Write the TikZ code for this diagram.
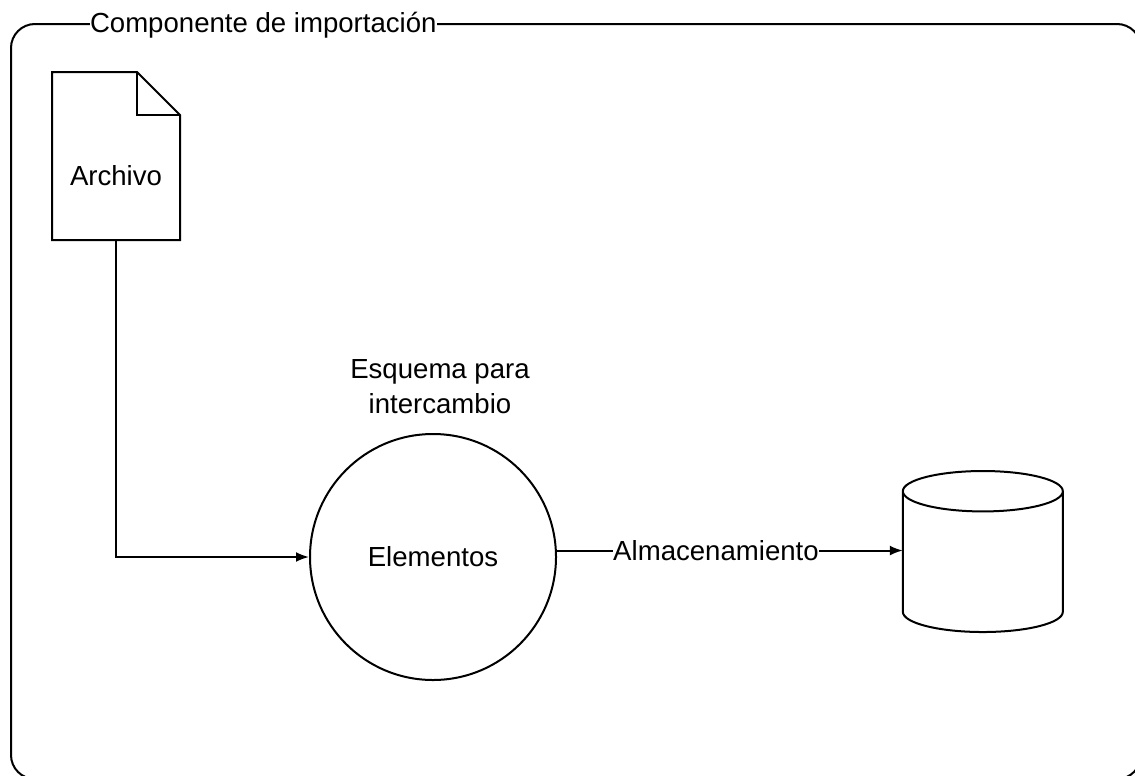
\documentclass[tikz,border=0pt]{standalone}
\usepackage{fontspec}
\setmainfont{Liberation Sans}
\usepackage{tikz}
\usetikzlibrary{positioning}
\usetikzlibrary{shapes.geometric}
\usetikzlibrary{arrows.meta}

\begin{document}
\begin{tikzpicture}[line width=0.4mm,
    texto/.style={font=\fontsize{15.7}{19.9}\selectfont,inner sep=0pt,align=center},
    flecha/.style={-{Latex[length=2.6mm,width=2mm]}}]
   \useasboundingbox (0,0) rectangle (22.7,-15.5);
   \clip (0,0) rectangle (22.7,-15.5);
   \node[draw,rounded corners=0.48cm,minimum width=22.6cm,minimum height=15.1cm](marco) at (11.52,-8.03) {};
   \node[texto,fill=white,anchor=west](titulo) at ([xshift=1.58cm,yshift=-0.04cm]marco.north west) {Componente de importación};
   \node[minimum width=2.52cm,minimum height=3.32cm,below right=0.98cm and 0.84cm of marco.north west](archivo) {};
   \draw (archivo.north west)--([xshift=-0.86cm]archivo.north east)--([yshift=-0.86cm]archivo.north east)--(archivo.south east)--(archivo.south west)--cycle;
   \draw ([xshift=-0.86cm]archivo.north east)|-([yshift=-0.86cm]archivo.north east);
   \node[texto] at ([yshift=-0.4cm]archivo.center)(nombre) {Archivo};
   \node[draw,circle,texto,minimum size=4.92cm](elementos) at (8.66,-11.14) {Elementos};
   \node[texto,above=0.36cm of elementos,xshift=0.14cm](esquema) {Esquema para\\intercambio};
   \node[draw,cylinder,shape border rotate=90,shape aspect=3.45,outer sep=0pt,minimum width=3.2cm,minimum height=3.22cm,right=8.52cm of elementos.3,anchor=shape center,yshift=-0.02cm](almacen) {};
   \draw[flecha] (archivo.south)|-(elementos.west);
   \draw[flecha] (elementos.3)--node[texto,fill=white,pos=0.46](etiqueta) {Almacenamiento} (almacen.west|-elementos.3);
\end{tikzpicture}
\end{document}
